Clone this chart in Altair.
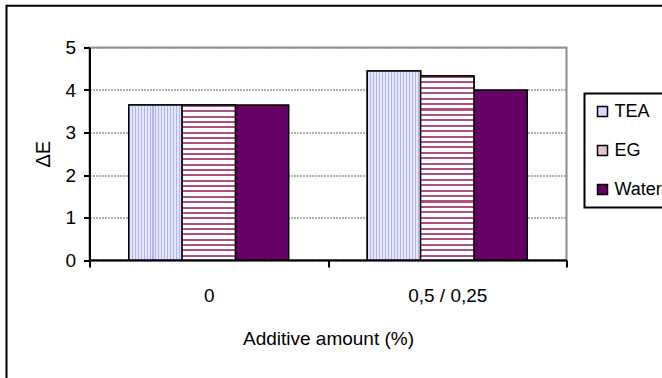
import altair as alt
import pandas as pd

# Colour difference (ΔE) by additive and additive amount
categories = ["0", "0,5 / 0,25"]
series = ["TEA", "EG", "Water"]
tea = [3.65, 4.45]
eg = [3.65, 4.33]
water = [3.65, 4.00]

rows = []
for name, vals in zip(series, [tea, eg, water]):
    for cat, v in zip(categories, vals):
        rows.append({"amount": cat, "additive": name, "dE": v})
df = pd.DataFrame(rows)

FONT = "Liberation Sans, Arial"
FS = 19
STROKE = dict(stroke="black", strokeWidth=1.5)


def stripes(n, bg, line, frac, horizontal_lines):
    """Hard-edged linear gradient that imitates a hatch fill."""
    stops = []
    for k in range(n):
        a, b, c = k / n, (k + frac) / n, (k + 1) / n
        stops += [
            {"offset": a, "color": line},
            {"offset": b, "color": line},
            {"offset": b, "color": bg},
            {"offset": c, "color": bg},
        ]
    grad = {"gradient": "linear", "stops": stops}
    if horizontal_lines:
        grad.update(x1=0, y1=0, x2=0, y2=1)
    else:
        grad.update(x1=0, y1=0, x2=1, y2=0)
    return grad


x_enc = alt.X(
    "amount:N",
    sort=categories,
    scale=alt.Scale(domain=categories, paddingInner=0, paddingOuter=0),
    axis=alt.Axis(
        title="Additive amount (%)",
        labelAngle=0,
        tickBand="extent",
        domainColor="black",
        domainWidth=2,
        tickColor="black",
        tickWidth=2,
        tickSize=7,
        labelPadding=19,
        labelFont=FONT,
        labelFontSize=FS,
        labelColor="black",
        titleFont=FONT,
        titleFontSize=FS,
        titleFontWeight="normal",
        titleColor="black",
        titleBaseline="alphabetic",
        titleY=84,
        grid=False,
    ),
)
xoff_enc = alt.XOffset(
    "additive:N",
    sort=series,
    scale=alt.Scale(domain=series, paddingInner=0, paddingOuter=0.737),
)
y_enc = alt.Y(
    "dE:Q",
    scale=alt.Scale(domain=[0, 5], nice=False),
    axis=alt.Axis(
        title="ΔE",
        values=[0, 1, 2, 3, 4, 5],
        format="d",
        domainColor="black",
        domainWidth=2,
        tickColor="black",
        tickWidth=2,
        tickSize=6,
        labelPadding=8,
        labelFont=FONT,
        labelFontSize=FS,
        labelColor="black",
        grid=True,
        gridColor="#9a9a9a",
        gridDash=[2, 1],
        gridWidth=1.5,
        titleFont=FONT,
        titleFontSize=20,
        titleFontWeight="normal",
        titleColor="black",
        titleAngle=270,
        titleAlign="center",
        titleBaseline="middle",
        titleX=-46.5,
        titleY=106.25,
    ),
)

base = alt.Chart(df).encode(x=x_enc, xOffset=xoff_enc, y=y_enc)

# all bars with solid fills (drives the legend); Water stays solid
bars = base.mark_bar(**STROKE).encode(
    color=alt.Color(
        "additive:N",
        sort=series,
        scale=alt.Scale(domain=series, range=["#d8d8ff", "#e6bfd2", "#660066"]),
        legend=alt.Legend(
            title=None,
            orient="none",
            legendX=495,
            legendY=46,
            padding=9,
            symbolType="square",
            symbolSize=100,
            symbolStrokeColor="black",
            symbolStrokeWidth=1.5,
            symbolOpacity=1,
            labelFont=FONT,
            labelFontSize=18,
            labelColor="black",
            labelOffset=3,
            rowPadding=21,
            strokeColor="black",
            fillColor="white",
        ),
    )
)

# TEA: pale lavender with fine vertical lines
tea_bars = base.transform_filter(alt.datum.additive == "TEA").mark_bar(
    fill=stripes(18, "#e6e6ff", "#b2b2f6", 0.35, False), **STROKE
)

# EG: white with horizontal magenta lines, spacing kept constant per unit
layers = [bars, tea_bars]
for cat, v in zip(categories, eg):
    n = round(v * 7.9)
    layers.append(
        base.transform_filter(
            (alt.datum.additive == "EG") & (alt.datum.amount == cat)
        ).mark_bar(fill=stripes(n, "#ffffff", "#b0507e", 0.38, True), **STROKE)
    )

# outer frame of the chart object
frame = alt.Chart(pd.DataFrame({"k": [0]})).mark_rect(
    filled=False, stroke="black", strokeWidth=2, clip=False
).encode(
    x=alt.value(-83), x2=alt.value(700), y=alt.value(-41.7), y2=alt.value(420)
)
layers.append(frame)

chart = (
    alt.layer(*layers)
    .properties(
        width=477,
        height=212.5,
        autosize=alt.AutoSizeParams(type="none"),
        padding={"left": 89.5, "top": 47.5, "right": 95.5, "bottom": 118},
        background="white",
    )
    .configure_view(stroke="#8c8c8c", strokeWidth=2)
    .configure_legend(strokeWidth=2)
)

chart.save("out.html", embed_options={"renderer": "svg", "actions": False})
